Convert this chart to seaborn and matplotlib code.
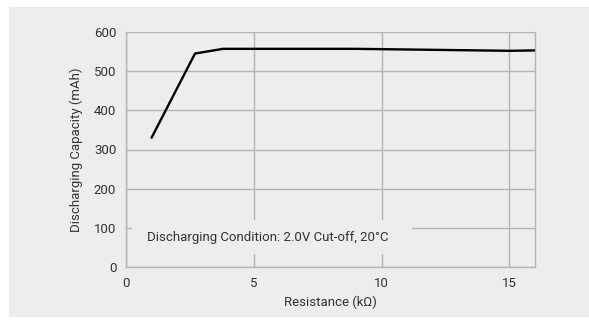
import matplotlib
matplotlib.use("Agg")
import matplotlib.pyplot as plt
from matplotlib.patches import Rectangle
import seaborn as sns
import pandas as pd

# values
resistance = [1.0, 2.7, 3.8, 9.0, 15.0, 16.0]
capacity = [330, 545, 557, 557, 552, 553]
x_ticks = [0, 5, 10, 15]
y_ticks = [0, 100, 200, 300, 400, 500, 600]

df = pd.DataFrame({"Resistance": resistance, "Capacity": capacity})

sns.set_style("white")
plt.rcParams["font.family"] = ["Roboto", "DejaVu Sans"]

panel = "#ededed"
grid_c = "#b4b4b4"
txt_c = "#333333"
fs = 9.5

fig = plt.figure(figsize=(5.89, 3.2), dpi=100)
fig.patch.set_facecolor("white")
fig.patches.append(Rectangle((9 / 589, 3 / 320), 580 / 589, 310 / 320,
                             transform=fig.transFigure, facecolor=panel,
                             edgecolor="none", zorder=-10))

ax = fig.add_axes([126 / 589, 53 / 320, 409 / 589, 235 / 320])
ax.set_facecolor(panel)

sns.lineplot(data=df, x="Resistance", y="Capacity", ax=ax, color="black",
             linewidth=1.7, zorder=5)

ax.set_xlim(0, 16)
ax.set_ylim(0, 600)
ax.set_xticks(x_ticks)
ax.set_yticks(y_ticks)
ax.grid(True, color=grid_c, linewidth=1)
ax.set_axisbelow(True)
for s in ax.spines.values():
    s.set_color(grid_c)
    s.set_linewidth(1)
ax.spines["top"].set_visible(False)
ax.tick_params(length=0, labelsize=fs, colors=txt_c, pad=7)

ax.set_xlabel("Resistance (kΩ)", fontsize=fs, color=txt_c, labelpad=4)
ax.set_ylabel("Discharging Capacity (mAh)", fontsize=fs, color=txt_c, labelpad=8)

# label box that hides the grid behind the condition note
ax.add_patch(Rectangle((0.24, 33), 10.94, 87, facecolor=panel,
                       edgecolor="none", zorder=3))
ax.text(0.82, 76, "Discharging Condition: 2.0V Cut-off, 20°C", fontsize=fs,
        color=txt_c, va="center", ha="left", zorder=4)

fig.savefig("out.png", dpi=100)
